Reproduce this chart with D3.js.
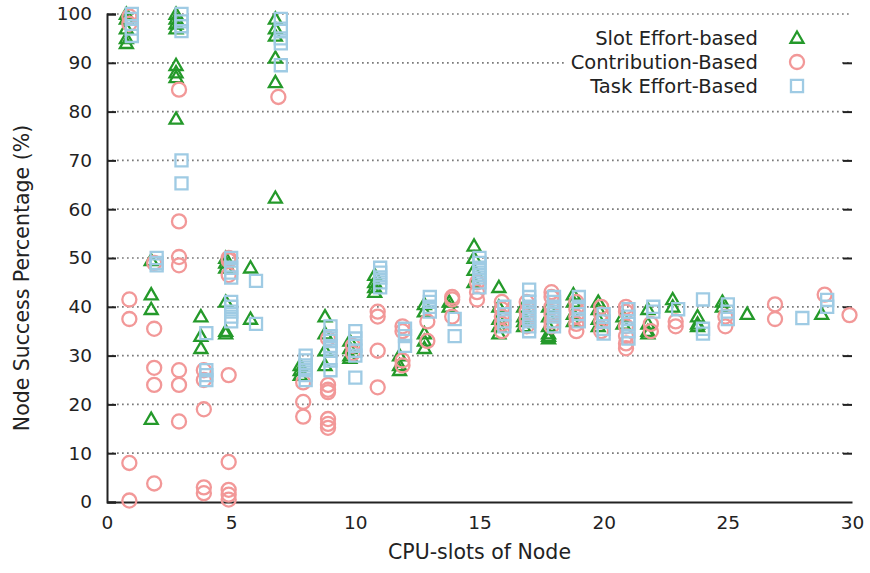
<!DOCTYPE html>
<html>
<head>
<meta charset="utf-8">
<script src="https://cdn.jsdelivr.net/npm/d3@7"></script>
<style>
  body { margin: 0; background: #fff; }
  text { font-family: "DejaVu Sans", Verdana, sans-serif; fill: #222; }
</style>
</head>
<body>
<div id="chart"></div>
<script>
// [cpu slots, success % values]
const slotEffort = [
    [1, [100, 99, 97, 95, 94]],
    [2, [49.5, 42.5, 39.5, 17]],
    [3, [100, 99, 98, 97, 89.5, 88, 87, 78.5]],
    [4, [38, 34, 31.5]],
    [5, [50, 49, 48, 41, 35, 34.5]],
    [6, [48, 37.5]],
    [7, [99, 97, 95.5, 91, 86, 62.3]],
    [8, [28, 27, 26]],
    [9, [38, 34.5, 31, 28]],
    [10, [33, 31.5, 30, 29.5]],
    [11, [46.5, 45, 44, 43]],
    [12, [30, 28, 27]],
    [13, [40.5, 39, 34.5, 33, 31.5]],
    [14, [41, 40]],
    [15, [52.5, 50, 47.5, 45]],
    [16, [44, 40, 37.5, 36, 34.5]],
    [17, [40, 38, 37, 36]],
    [18, [40, 38, 36, 34.5, 34, 33.5]],
    [19, [42.5, 41, 38.5, 37]],
    [20, [41, 39.5, 37.5, 36]],
    [21, [38, 36.5]],
    [22, [39.5, 36.5, 35, 34.5]],
    [23, [41.5, 40]],
    [24, [38, 36.5, 36]],
    [25, [41, 40]],
    [26, [38.5]],
    [29, [38.5]]
];

const contribution = [
    [1, [99.5, 98, 41.5, 37.5, 8, 0.3]],
    [2, [49, 35.5, 27.5, 24, 3.8]],
    [3, [84.5, 57.5, 50.2, 48.5, 27, 24, 16.5]],
    [4, [27, 25, 19, 3, 1.8]],
    [5, [50, 49.5, 46.5, 26, 8.2, 2.5, 1.5, 0.5]],
    [7, [83]],
    [8, [24.5, 20.5, 17.5]],
    [9, [33.5, 24, 23, 22.5, 17, 16, 15.2]],
    [10, [32, 30.5]],
    [11, [39, 38, 31, 23.5]],
    [12, [36, 35, 29, 28]],
    [13, [37, 33]],
    [14, [42, 41.5, 38]],
    [15, [45, 43, 41.5]],
    [16, [41, 39.5, 38, 36.5, 35]],
    [17, [41, 39, 37.5, 36]],
    [18, [43, 42, 40, 38.5, 37, 36]],
    [19, [41, 39.5, 38, 36.5, 35]],
    [20, [40, 38.5, 37, 35]],
    [21, [40, 39, 36, 34, 32.5, 31.5]],
    [22, [36.5, 35]],
    [23, [37, 36]],
    [25, [38, 36]],
    [27, [40.5, 37.5]],
    [29, [42.5]],
    [30, [38.3]]
];

const taskEffort = [
    [1, [100, 99, 97, 95.5]],
    [2, [50, 49, 48.5]],
    [3, [100, 98.5, 97.5, 96.5, 70, 65.3]],
    [4, [34.6, 27, 26, 25]],
    [5, [50, 48, 47, 46, 41, 40, 39, 38, 37]],
    [6, [45.3, 36.5]],
    [7, [99, 97, 95, 94, 89.5]],
    [8, [30, 29, 28, 27, 26, 25]],
    [9, [36, 34, 33, 32, 31, 29, 27]],
    [10, [35, 33.5, 32, 31, 30, 25.5]],
    [11, [48, 47, 46, 45, 44]],
    [12, [35.5, 34, 32]],
    [13, [42, 41, 40, 39]],
    [14, [37.5, 34]],
    [15, [50, 49, 48, 47, 46, 45, 44]],
    [16, [40, 38.5, 37, 36]],
    [17, [43.5, 42, 41, 40, 39, 38, 37, 36, 35]],
    [18, [42, 41, 40, 39, 38, 37, 36]],
    [19, [42, 40, 38.5, 37]],
    [20, [38.5, 37, 35.5, 34.5]],
    [21, [39.5, 38, 36.5, 35, 33.5]],
    [22, [40, 39]],
    [23, [39.5]],
    [24, [41.5, 35.5, 34.5]],
    [25, [40.5, 39, 37.5]],
    [28, [37.7]],
    [29, [41.4, 40]]
];

const xTicks = [0, 5, 10, 15, 20, 25, 30];
const yTicks = [0, 10, 20, 30, 40, 50, 60, 70, 80, 90, 100];
const yGrid = [10, 20, 30, 40, 50, 60, 70, 80, 90, 100];

const series = [
    { name: "Slot Effort-based", data: slotEffort, shape: "triangle", color: "#24992a", dx: -0.22 },
    { name: "Contribution-Based", data: contribution, shape: "circle", color: "#f29898", dx: -0.1 },
    { name: "Task Effort-Based", data: taskEffort, shape: "square", color: "#9fcbe4", dx: 0 }
];

const width = 870;
const height = 573;
const margin = { top: 14, right: 18, bottom: 71, left: 107 };
const font = "'DejaVu Sans', Verdana, sans-serif";

const svg = d3.select("#chart")
    .append("svg")
    .attr("width", width)
    .attr("height", height);

const x = d3.scaleLinear().domain([0, 30]).range([margin.left, width - margin.right]);
const y = d3.scaleLinear().domain([0, 100]).range([height - margin.bottom, margin.top]);

// dotted grid
svg.append("g")
    .selectAll("line")
    .data(yGrid)
    .join("line")
    .attr("x1", x(0))
    .attr("x2", x(30))
    .attr("y1", d => y(d))
    .attr("y2", d => y(d))
    .attr("stroke", "#7a7a7a")
    .attr("stroke-width", 1.7)
    .attr("stroke-dasharray", "1.7,3.3");

// legend box blanks the grid behind it
svg.append("rect")
    .attr("x", 566).attr("y", 24)
    .attr("width", 276).attr("height", 76)
    .attr("fill", "#fff");

// left ticks and mirror ticks on right
const yAxis = d3.axisLeft(y).tickValues(yTicks).tickSize(-9).tickPadding(15);
const gy = svg.append("g")
    .attr("transform", `translate(${x(0)},0)`)
    .call(yAxis);
gy.select(".domain").attr("stroke", "#222").attr("stroke-width", 2);
gy.selectAll(".tick line").attr("stroke", "#222").attr("stroke-width", 2);
gy.selectAll(".tick text").attr("font-size", 18.5).style("font-family", font).attr("fill", "#222");

const gyr = svg.append("g")
    .attr("transform", `translate(${x(30)},0)`)
    .call(d3.axisRight(y).tickValues(yTicks.filter(d => d > 0 && d < 100)).tickSize(-9).tickFormat(""));
gyr.select(".domain").remove();
gyr.selectAll(".tick line").attr("stroke", "#222").attr("stroke-width", 2);

const xAxis = d3.axisBottom(x).tickValues(xTicks).tickSize(0).tickPadding(14);
const gx = svg.append("g")
    .attr("transform", `translate(0,${y(0)})`)
    .call(xAxis);
gx.select(".domain").attr("stroke", "#222").attr("stroke-width", 2);
gx.selectAll(".tick text").attr("font-size", 18.5).style("font-family", font).attr("fill", "#222");

// axis titles
svg.append("text")
    .attr("x", (x(0) + x(30)) / 2)
    .attr("y", 559)
    .attr("text-anchor", "middle")
    .attr("font-size", 20.5)
    .text("CPU-slots of Node");

svg.append("text")
    .attr("transform", `translate(29,${(y(0) + y(100)) / 2 + 20}) rotate(-90)`)
    .attr("text-anchor", "middle")
    .attr("font-size", 20.5)
    .text("Node Success Percentage (%)");

const symbolFor = shape => {
    if (shape === "triangle") return d3.symbol().type(d3.symbolTriangle2).size(120);
    if (shape === "circle") return d3.symbol().type(d3.symbolCircle).size(155);
    return d3.symbol().type(d3.symbolSquare2).size(185);
};

// points
series.forEach(s => {
    const pts = s.data.flatMap(([cpu, vals]) => vals.map(v => ({ cpu, v })));
    const sym = symbolFor(s.shape);
    svg.append("g")
        .selectAll("path")
        .data(pts)
        .join("path")
        .attr("d", sym)
        .attr("transform", d => `translate(${x(d.cpu + s.dx)},${y(d.v) + (s.shape === "triangle" ? 1 : 0)})`)
        .attr("fill", "none")
        .attr("stroke", s.color)
        .attr("stroke-width", 2.3);
});

// legend
const legend = svg.append("g");
series.forEach((s, i) => {
    const ly = 38 + i * 24;
    legend.append("text")
        .attr("x", 758)
        .attr("y", ly + 7)
        .attr("text-anchor", "end")
        .attr("font-size", 19.5)
        .text(s.name);
    legend.append("path")
        .attr("d", symbolFor(s.shape))
        .attr("transform", `translate(797,${ly + (s.shape === "triangle" ? 1 : 0)})`)
        .attr("fill", "none")
        .attr("stroke", s.color)
        .attr("stroke-width", 2.3);
});
</script>
</body>
</html>
